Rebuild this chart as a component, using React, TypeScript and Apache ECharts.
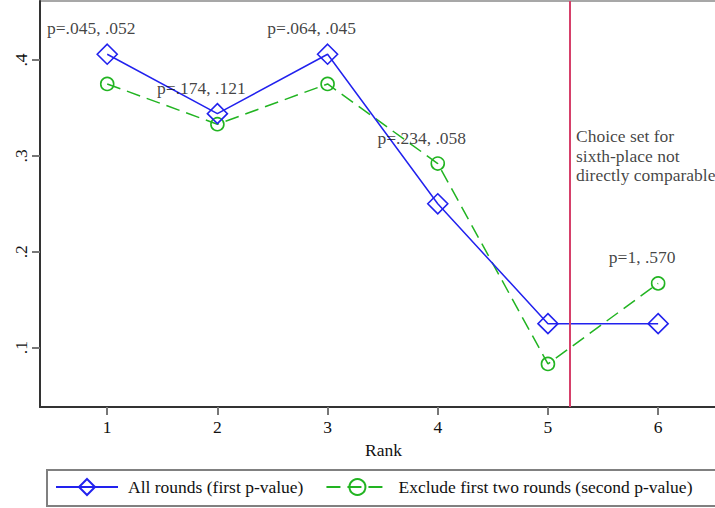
import React, { useEffect, useRef } from "react";
import * as echarts from "echarts";

const ranks = [1, 2, 3, 4, 5, 6];
const allRounds = [0.406, 0.344, 0.406, 0.25, 0.125, 0.125];
const excludeFirstTwo = [0.375, 0.333, 0.375, 0.292, 0.083, 0.167];
const pLabels = ["p=.045, .052", "p=.174, .121", "p=.064, .045", "p=.234, .058", "", "p=1, .570"];
const xTicks = [1, 2, 3, 4, 5, 6];
const yTicks = [0.1, 0.2, 0.3, 0.4];
const cutoffRank = 5.2;
const noteY = 0.3;
const noteText = "Choice set for\nsixth-place not\ndirectly comparable";
const seriesNames = ["All rounds (first p-value)", "Exclude first two rounds (second p-value)"];

const FONT = "'Liberation Serif', 'Times New Roman', serif";
const FS = 17.5;
const BLUE = "#2222ee";
const GREEN = "#22b422";
const RED = "#d6406a";
const CLEAR = "rgba(255,255,255,0)";

export default function App() {
  const ref = useRef<HTMLDivElement>(null);
  useEffect(() => {
    document.body.style.margin = "0";
    if (!ref.current) return;
    const chart = echarts.init(ref.current, null, { renderer: "svg" });
    const annData = ranks
      .map((r, i) => [r, Math.max(allRounds[i], excludeFirstTwo[i]), pLabels[i]])
      .filter((d) => d[2] !== "");
    chart.setOption({
      animation: false,
      backgroundColor: "#ffffff",
      textStyle: { fontFamily: FONT },
      grid: {
        left: 40,
        right: -12,
        top: 1,
        bottom: 101,
        show: true,
        borderColor: "#8a8a8a",
        borderWidth: 1.5,
        containLabel: false,
        outerBoundsMode: "none",
      },
      legend: {
        data: seriesNames,
        left: 47,
        top: 470,
        width: 700,
        orient: "horizontal",
        padding: [8, 40, 10, 8],
        itemWidth: 62,
        itemHeight: 20,
        itemGap: 22,
        borderColor: "#808080",
        borderWidth: 2,
        textStyle: { fontFamily: FONT, fontSize: FS, color: "#111", padding: [0, 0, 0, 5] },
      },
      xAxis: {
        type: "value",
        min: 0.39,
        max: 6.625,
        name: "Rank",
        nameLocation: "middle",
        nameGap: 33,
        nameTextStyle: { fontFamily: FONT, fontSize: FS, color: "#111" },
        splitLine: { show: false },
        axisLine: { show: true, onZero: false, lineStyle: { color: "#333", width: 2 } },
        axisTick: { show: true, customValues: xTicks, length: 8, lineStyle: { color: "#777", width: 2 } },
        axisLabel: {
          customValues: xTicks,
          margin: 11,
          fontFamily: FONT,
          fontSize: FS,
          color: "#111",
          formatter: (v: number) => String(v),
        },
      },
      yAxis: {
        type: "value",
        min: 0.0381,
        max: 0.4615,
        splitLine: { show: false },
        axisLine: { show: true, onZero: false, lineStyle: { color: "#333", width: 2 } },
        axisTick: { show: true, customValues: yTicks, length: 8, lineStyle: { color: "#777", width: 2 } },
        axisLabel: {
          customValues: yTicks,
          rotate: 90,
          margin: 10,
          fontFamily: FONT,
          fontSize: FS,
          color: "#111",
          formatter: (v: number) => v.toFixed(1).replace(/^0/, ""),
        },
      },
      series: [
        {
          name: seriesNames[0],
          type: "line",
          data: ranks.map((r, i) => [r, allRounds[i]]),
          symbol: "diamond",
          symbolSize: 20,
          showAllSymbol: true,
          lineStyle: { color: BLUE, width: 1.5 },
          itemStyle: { color: CLEAR, borderColor: BLUE, borderWidth: 1.6 },
          z: 3,
          markLine: {
            silent: true,
            symbol: "none",
            label: { show: false },
            lineStyle: { color: RED, width: 2, type: "solid" },
            data: [{ xAxis: cutoffRank }],
          },
        },
        {
          name: seriesNames[1],
          type: "line",
          data: ranks.map((r, i) => [r, excludeFirstTwo[i]]),
          symbol: "circle",
          symbolSize: 13,
          showAllSymbol: true,
          lineStyle: { color: GREEN, width: 1.5, type: [14, 7] },
          itemStyle: { color: CLEAR, borderColor: GREEN, borderWidth: 1.6 },
          z: 2,
        },
        {
          name: "pvalues",
          type: "scatter",
          data: annData,
          symbolSize: 2,
          itemStyle: { color: CLEAR },
          silent: true,
          label: {
            show: true,
            position: "top",
            distance: 16,
            offset: [-16, 0],
            fontFamily: FONT,
            fontSize: FS,
            color: "#111",
            formatter: (p: any) => p.value[2],
          },
          z: 4,
        },
        {
          name: "note",
          type: "scatter",
          data: [[cutoffRank, noteY]],
          symbolSize: 2,
          itemStyle: { color: CLEAR },
          silent: true,
          label: {
            show: true,
            position: "right",
            distance: 5,
            align: "left",
            verticalAlign: "middle",
            fontFamily: FONT,
            fontSize: FS,
            lineHeight: 19.5,
            color: "#111",
            formatter: () => noteText,
          },
          z: 4,
        },
      ],
    });
    return () => chart.dispose();
  }, []);
  return <div ref={ref} style={{ width: 715, height: 508 }} />;
}
